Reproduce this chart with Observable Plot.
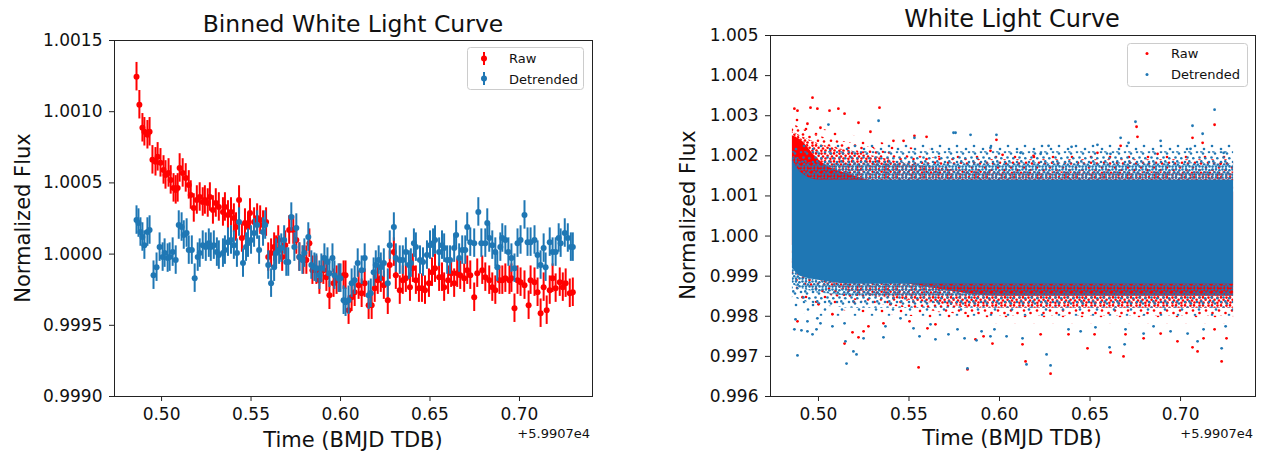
<!DOCTYPE html>
<html>
<head>
<meta charset="utf-8">
<script src="https://cdn.jsdelivr.net/npm/d3@7"></script>
<script src="https://cdn.jsdelivr.net/npm/@observablehq/plot@0.6"></script>
<style>
  html, body { margin: 0; padding: 0; background: #fff; }
  #wrap { position: relative; width: 1262px; height: 453px; overflow: hidden; font-family: "DejaVu Sans", sans-serif; }
  #left, #right { position: absolute; top: 0; }
  #left { left: 0; }
  #right { left: 631px; }
  #overlay { position: absolute; left: 0; top: 0; pointer-events: none; }
  #defs { position: absolute; left: 0; top: 0; width: 0; height: 0; }
</style>
</head>
<body>
<svg id="defs" width="0" height="0">
  <defs>
    <pattern id="blueDense" width="10" height="8" patternUnits="userSpaceOnUse">
      <g fill="#1f77b4">
        <circle cx="1.5" cy="1.5" r="1.3"/><circle cx="5" cy="1.4" r="1.3"/><circle cx="8.4" cy="2.2" r="1.3"/>
        <circle cx="3.2" cy="4.2" r="1.3"/><circle cx="6.8" cy="4.6" r="1.3"/><circle cx="1.6" cy="6.6" r="1.3"/>
        <circle cx="5" cy="6.6" r="1.3"/><circle cx="8.5" cy="6.4" r="1.3"/>
      </g>
    </pattern>
    <pattern id="blueSparse" width="12" height="10" patternUnits="userSpaceOnUse">
      <g fill="#1f77b4">
        <circle cx="2" cy="2" r="1.3"/><circle cx="8" cy="3.5" r="1.3"/><circle cx="4.5" cy="7.5" r="1.3"/><circle cx="10.3" cy="8.3" r="1.3"/>
        <circle cx="6.3" cy="1.4" r="1.3"/>
      </g>
    </pattern>
    <pattern id="blueFar" width="17" height="13" patternUnits="userSpaceOnUse">
      <g fill="#1f77b4">
        <circle cx="3" cy="3" r="1.3"/><circle cx="12" cy="6" r="1.3"/><circle cx="7" cy="10.5" r="1.3"/>
      </g>
    </pattern>
    <pattern id="redDense" width="9" height="8" patternUnits="userSpaceOnUse">
      <g fill="#ff0000">
        <circle cx="1.5" cy="1.6" r="1.3"/><circle cx="5" cy="1.4" r="1.3"/><circle cx="7.6" cy="3.8" r="1.3"/>
        <circle cx="3" cy="4.5" r="1.3"/><circle cx="1.4" cy="6.7" r="1.3"/><circle cx="5.5" cy="6.5" r="1.3"/>
      </g>
    </pattern>
    <pattern id="redSparse" width="13" height="11" patternUnits="userSpaceOnUse">
      <g fill="#ff0000">
        <circle cx="3" cy="2.5" r="1.3"/><circle cx="9.5" cy="5" r="1.3"/><circle cx="5" cy="8.8" r="1.3"/><circle cx="11" cy="9.5" r="1.3"/>
      </g>
    </pattern>
    <pattern id="redFar" width="19" height="14" patternUnits="userSpaceOnUse">
      <g fill="#ff0000">
        <circle cx="4" cy="3" r="1.3"/><circle cx="14" cy="8" r="1.3"/>
      </g>
    </pattern>
  </defs>
</svg>
<div id="wrap">
  <div id="left"></div>
  <div id="right"></div>
</div>
<script>
// ---------------- shared ticks ----------------
const xTicks = [0.50, 0.55, 0.60, 0.65, 0.70];
const yTicksBinned = [0.9990, 0.9995, 1.0000, 1.0005, 1.0010, 1.0015];
const yTicksFull = [0.996, 0.997, 0.998, 0.999, 1.000, 1.001, 1.002, 1.003, 1.004, 1.005];
const binErr = 0.0001;

// ---------------- Left panel: binned white light curve ----------------
const rawTime = [0.4860,0.4876,0.4893,0.4904,0.4921,0.4933,0.4949,0.4966,0.4978,0.4994,
0.5011,0.5022,0.5039,0.5051,0.5067,0.5079,0.5090,0.5101,0.5118,0.5135,
0.5152,0.5163,0.5180,0.5197,0.5213,0.5230,0.5242,0.5258,0.5270,0.5287,
0.5303,0.5320,0.5343,0.5354,0.5371,0.5388,0.5404,0.5416,0.5433,0.5449,
0.5466,0.5483,0.5494,0.5517,0.5534,0.5551,0.5567,0.5584,0.5596,0.5612,
0.5629,0.5640,0.5652,0.5674,0.5691,0.5713,0.5736,0.5753,0.5770,0.5792,
0.5809,0.5826,0.5843,0.5865,0.5882,0.5904,0.5921,0.5938,0.5961,0.5978,
0.5994,0.6017,0.6028,0.6045,0.6062,0.6079,0.6101,0.6118,0.6135,0.6157,
0.6174,0.6191,0.6208,0.6225,0.6242,0.6264,0.6275,0.6298,0.6309,0.6331,
0.6348,0.6365,0.6388,0.6404,0.6421,0.6438,0.6455,0.6472,0.6494,0.6511,
0.6528,0.6551,0.6567,0.6579,0.6601,0.6618,0.6635,0.6652,0.6669,0.6691,
0.6708,0.6725,0.6747,0.6764,0.6792,0.6809,0.6831,0.6848,0.6865,0.6888,
0.6904,0.6921,0.6944,0.6955,0.6972,0.6989,0.7006,0.7028,0.7051,0.7062,
0.7084,0.7101,0.7118,0.7135,0.7152,0.7169,0.7185,0.7202,0.7225,0.7242,
0.7258,0.7281,0.7298];
const rawFlux = [1.001246,1.001049,1.000887,1.000859,1.000838,1.000859,1.000662,1.000648,1.000683,1.000641,
1.000591,1.000556,1.000570,1.000521,1.000465,1.000451,1.000465,1.000605,1.000570,1.000535,
1.000486,1.000415,1.000324,1.000380,1.000401,1.000366,1.000380,1.000359,1.000401,1.000310,
1.000359,1.000331,1.000296,1.000331,1.000275,1.000296,1.000253,1.000190,1.000380,1.000113,
1.000218,1.000190,1.000289,1.000225,1.000253,1.000239,1.000204,1.000225,0.999979,1.000007,
1.000049,1.000028,1.000099,0.999979,1.000063,1.000169,1.000169,1.000099,0.999979,0.999958,
0.999958,1.000077,0.999887,0.999887,0.999817,0.999887,0.999838,0.999711,0.999796,0.999817,
0.999831,0.999852,0.999852,0.999606,0.999697,0.999732,0.999782,0.999725,0.999796,0.999641,
0.999641,0.999761,0.999817,0.999831,0.999782,0.999676,0.999923,1.000014,0.999852,0.999747,
0.999817,0.999831,0.999768,0.999901,0.999817,0.999761,0.999761,0.999747,0.999796,0.999873,
0.999901,0.999838,0.999838,0.999768,0.999817,0.999866,0.999796,0.999866,0.999852,0.999831,
0.999887,0.999852,0.999697,0.999866,0.999887,0.999838,0.999817,0.999768,0.999747,0.999817,
0.999817,0.999831,0.999817,0.999831,0.999620,0.999817,0.999803,0.999782,0.999641,0.999817,
0.999803,0.999732,0.999585,0.999768,0.999606,0.999747,0.999831,0.999761,0.999803,0.999768,
0.999796,0.999725,0.999732];

const detTime = [0.4860,0.4871,0.4882,0.4893,0.4904,0.4921,0.4933,0.4955,0.4972,0.4989,
0.5006,0.5017,0.5034,0.5045,0.5062,0.5079,0.5096,0.5112,0.5124,0.5140,
0.5152,0.5169,0.5185,0.5202,0.5213,0.5230,0.5247,0.5264,0.5275,0.5292,
0.5309,0.5320,0.5343,0.5354,0.5371,0.5388,0.5404,0.5421,0.5433,0.5455,
0.5472,0.5483,0.5500,0.5517,0.5534,0.5545,0.5567,0.5579,0.5596,0.5612,
0.5629,0.5640,0.5657,0.5669,0.5685,0.5697,0.5708,0.5725,0.5742,0.5753,
0.5770,0.5787,0.5798,0.5820,0.5837,0.5854,0.5865,0.5882,0.5893,0.5910,
0.5927,0.5938,0.5955,0.5966,0.5989,0.6000,0.6017,0.6028,0.6045,0.6062,
0.6079,0.6096,0.6118,0.6135,0.6157,0.6169,0.6185,0.6197,0.6213,0.6225,
0.6242,0.6264,0.6275,0.6298,0.6309,0.6331,0.6348,0.6365,0.6382,0.6393,
0.6410,0.6421,0.6444,0.6461,0.6483,0.6500,0.6517,0.6528,0.6551,0.6567,
0.6579,0.6596,0.6612,0.6635,0.6646,0.6663,0.6680,0.6697,0.6708,0.6725,
0.6747,0.6770,0.6787,0.6809,0.6820,0.6831,0.6848,0.6865,0.6876,0.6893,
0.6904,0.6921,0.6938,0.6955,0.6972,0.6989,0.7006,0.7028,0.7045,0.7062,
0.7084,0.7101,0.7118,0.7135,0.7146,0.7169,0.7185,0.7202,0.7219,0.7230,
0.7253,0.7270,0.7287,0.7298];
const detFlux = [1.000239,1.000218,1.000155,1.000120,1.000063,1.000155,1.000169,0.999852,0.999908,1.000049,
0.999979,1.000007,0.999972,0.999979,1.000014,0.999958,1.000204,1.000190,1.000134,1.000148,
1.000028,1.000028,0.999831,0.999979,1.000007,1.000063,1.000049,1.000077,1.000049,1.000063,
1.000014,0.999993,1.000007,1.000028,1.000084,1.000099,1.000063,1.000007,1.000225,0.999937,
1.000049,1.000077,1.000099,1.000148,1.000204,1.000028,1.000155,1.000204,0.999923,0.999796,
0.999908,1.000007,1.000028,1.000042,1.000099,0.999944,0.999944,1.000260,1.000049,1.000183,
0.999979,0.999958,1.000007,1.000120,0.999923,0.999908,0.999901,0.999852,0.999901,0.999972,
0.999944,0.999866,0.999972,0.999852,0.999831,0.999831,0.999676,0.999662,0.999676,0.999796,
0.999817,0.999937,0.999887,0.999972,0.999711,0.999725,0.999873,0.999923,0.999958,0.999908,
0.999937,0.999796,1.000063,1.000190,0.999972,0.999958,0.999958,1.000014,0.999923,0.999937,
1.000077,1.000049,0.999958,0.999944,0.999993,1.000063,1.000077,1.000099,1.000014,1.000063,
1.000042,0.999958,0.999958,1.000042,1.000134,0.999972,1.000028,1.000028,1.000190,1.000084,
1.000077,1.000296,1.000077,1.000077,1.000218,1.000113,1.000063,1.000014,0.999908,1.000049,
1.000113,1.000099,1.000014,0.999972,0.999901,1.000077,1.000099,1.000275,1.000084,1.000084,
1.000099,0.999993,0.999923,1.000042,0.999908,1.000084,1.000014,1.000014,1.000113,1.000077,
1.000148,1.000113,1.000049,1.000049];

// ---------------- Right panel: unbinned white light curve ----------------
// envelopes of the dense point cloud (solid core, dense, sparse and far fringes), read at a few times
const bandTime   = [0.4856, 0.4900, 0.5000, 0.5200, 0.5500, 0.6000, 0.6500, 0.7000, 0.7293];
const detCoreLo  = [0.9992, 0.9990, 0.9989, 0.9988, 0.9988, 0.9988, 0.9988, 0.9988, 0.9988];
const detCoreHi  = [1.0019, 1.0016, 1.0014, 1.0014, 1.0014, 1.0014, 1.0014, 1.0014, 1.0014];
const detInnerLo = [0.9988, 0.9987, 0.9986, 0.9985, 0.9985, 0.9985, 0.9985, 0.9985, 0.9985];
const detInnerHi = [1.0020, 1.0019, 1.0018, 1.0018, 1.0018, 1.0018, 1.0018, 1.0018, 1.0018];
const detOuterLo = [0.9985, 0.9984, 0.9983, 0.9982, 0.9982, 0.9982, 0.9982, 0.9982, 0.9982];
const detOuterHi = [1.0021, 1.0021, 1.0021, 1.0021, 1.0021, 1.0021, 1.0021, 1.0021, 1.0021];
const detFarLo   = [0.9982, 0.9981, 0.9980, 0.9980, 0.9980, 0.9980, 0.9980, 0.9980, 0.9980];
const detFarHi   = [1.0023, 1.0023, 1.0023, 1.0023, 1.0023, 1.0023, 1.0023, 1.0023, 1.0023];
const rawCoreLo  = [0.9998, 0.9996, 0.9993, 0.9990, 0.9988, 0.9985, 0.9985, 0.9985, 0.9985];
const rawCoreHi  = [1.0025, 1.0024, 1.0019, 1.0015, 1.0012, 1.0011, 1.0011, 1.0011, 1.0011];
const rawInnerLo = [0.9994, 0.9992, 0.9989, 0.9986, 0.9984, 0.9982, 0.9982, 0.9982, 0.9982];
const rawInnerHi = [1.0026, 1.0025, 1.0023, 1.0021, 1.0018, 1.0016, 1.0016, 1.0016, 1.0016];
const rawOuterLo = [0.9990, 0.9988, 0.9986, 0.9984, 0.9982, 0.9980, 0.9980, 0.9980, 0.9980];
const rawOuterHi = [1.0028, 1.0027, 1.0025, 1.0023, 1.0020, 1.0019, 1.0019, 1.0019, 1.0019];
const rawFarLo   = [0.9986, 0.9985, 0.9983, 0.9981, 0.9980, 0.9978, 0.9978, 0.9978, 0.9978];
const rawFarHi   = [1.0030, 1.0029, 1.0027, 1.0025, 1.0022, 1.0021, 1.0021, 1.0021, 1.0021];

// isolated points outside the cloud
const rawOutTime = [0.4867,0.4884,0.4967,0.4956,0.4994,0.5061,0.5110,0.5144,0.5337,0.5221,0.5287,0.5011,0.4939,0.5414,0.5530,0.5597,0.5470,
0.5983,0.6017,0.6757,0.6762,0.6669,0.7066,0.7122,0.7188,0.6541,0.5950,0.6188,0.6873,0.7221,
0.4884,0.4912,0.5144,0.5188,0.5221,0.5249,0.5276,0.5359,0.5503,0.5553,0.5602,0.5646,0.5077,0.5000,0.5398,
0.5823,0.5867,0.5912,0.5961,0.6127,0.6144,0.6227,0.6282,0.6381,0.6486,0.6525,0.6613,0.6685,0.6696,0.6796,0.6890,0.6983,0.7066,0.7094,0.7127,0.7227,0.7254,0.7188];
const rawOutFlux = [1.003175,1.003125,1.00345,1.0032,1.003175,1.003125,1.003175,1.00305,1.0032,1.002825,1.0026,1.0027,1.0028,1.002375,1.0025,1.002475,1.002375,
1.0024,1.002025,1.002725,1.002475,1.00225,1.00245,1.002325,1.002775,1.002075,1.002125,1.002,1.00205,1.0018,
0.997875,0.998475,0.99732,0.9976,0.997475,0.997625,0.99775,0.997825,0.997875,0.996725,0.9977,0.9978,0.99805,0.9983,0.9983,
0.996675,0.997425,0.9975,0.99732,0.9973,0.996875,0.99755,0.99657,0.99755,0.9972,0.99755,0.9971,0.997,0.99755,0.99745,0.99757,0.997375,0.997225,0.997125,0.99745,0.996875,0.99745,0.997675];

const detOutTime = [0.5055,0.5332,0.5746,0.5530,0.5757,0.5840,0.5983,0.5950,0.6271,0.6398,0.6541,0.6669,0.6751,0.6713,0.6890,0.7066,0.7122,0.7188,0.7238,0.7055,0.6613,0.6227,0.6116,
0.4884,0.4867,0.4906,0.4939,0.4967,0.4989,0.4873,0.4939,0.4994,0.5011,0.5149,0.5155,0.5193,0.5210,0.5249,0.5359,0.5370,0.5525,0.5558,0.5646,0.5619,0.5144,0.5077,0.5453,
0.5718,0.5768,0.5807,0.5823,0.5873,0.5901,0.5950,0.5972,0.6039,0.6127,0.6149,0.6260,0.6282,0.6381,0.6448,0.6530,0.6608,0.6691,0.6696,0.6796,0.6851,0.6945,0.7039,0.7094,0.7127,0.7227,0.7249];
const detOutFlux = [1.00278,1.002875,1.002575,1.00245,1.002575,1.002525,1.002525,1.0022,1.00225,1.002225,1.002275,1.00245,1.00285,1.002325,1.002375,1.00275,1.00255,1.00315,1.002075,1.002175,1.00205,1.00205,1.002075,
0.997025,0.997675,0.99765,0.997625,0.99755,0.997675,0.997925,0.997875,0.99795,0.997825,0.997375,0.99682,0.997125,0.99705,0.99745,0.997475,0.99775,0.9977,0.9975,0.997425,0.9978,0.997825,0.99775,0.99795,
0.99755,0.997675,0.99745,0.9967,0.9974,0.997625,0.9975,0.997675,0.9975,0.99745,0.9968,0.99705,0.996775,0.997675,0.997625,0.997725,0.997225,0.9973,0.997675,0.99757,0.99775,0.997625,0.99757,0.997375,0.997675,0.9972,0.99775];

// ---------------- build tables ----------------
const RED = "#ff0000", BLUE = "#1f77b4", INK = "#111111";
const rawBinned = rawTime.map((t, i) => ({t, v: rawFlux[i]}));
const detBinned = detTime.map((t, i) => ({t, v: detFlux[i]}));
const bands = bandTime.map((t, i) => ({
  t,
  dCL: detCoreLo[i], dCH: detCoreHi[i], dIL: detInnerLo[i], dIH: detInnerHi[i],
  dOL: detOuterLo[i], dOH: detOuterHi[i], dFL: detFarLo[i], dFH: detFarHi[i],
  rCL: rawCoreLo[i], rCH: rawCoreHi[i], rIL: rawInnerLo[i], rIH: rawInnerHi[i],
  rOL: rawOuterLo[i], rOH: rawOuterHi[i], rFL: rawFarLo[i], rFH: rawFarHi[i]
}));
const rawOut = rawOutTime.map((t, i) => ({t, v: rawOutFlux[i]}));
const detOut = detOutTime.map((t, i) => ({t, v: detOutFlux[i]}));

const baseStyle = {fontFamily: "DejaVu Sans, sans-serif", fontSize: "17px", color: INK, background: "transparent", overflow: "visible"};

const leftPlot = Plot.plot({
  width: 631, height: 453,
  marginLeft: 114, marginRight: 39, marginTop: 40, marginBottom: 57,
  style: baseStyle,
  x: {domain: [0.4737, 0.7408]},
  y: {domain: [0.9990, 1.0015]},
  marks: [
    Plot.ruleX(rawBinned, {x: "t", y1: d => d.v - binErr, y2: d => d.v + binErr, stroke: RED, strokeWidth: 2}),
    Plot.dot(rawBinned, {x: "t", y: "v", r: 3, fill: RED}),
    Plot.ruleX(detBinned, {x: "t", y1: d => d.v - binErr, y2: d => d.v + binErr, stroke: BLUE, strokeWidth: 2}),
    Plot.dot(detBinned, {x: "t", y: "v", r: 3, fill: BLUE}),
    Plot.frame({stroke: "#222"}),
    Plot.axisX({ticks: xTicks, tickFormat: ".2f", tickSize: 5, tickPadding: 6, label: null, fontSize: 17, stroke: "#222"}),
    Plot.axisY({ticks: yTicksBinned, tickFormat: ".4f", tickSize: 5, tickPadding: 7, label: null, fontSize: 17, stroke: "#222"})
  ]
});
document.getElementById("left").appendChild(leftPlot);

// band helper: a band between two envelope columns, filled with a speckle pattern or solid colour
const band = (lo, hi, fill) => Plot.areaY(bands, {x: "t", y1: lo, y2: hi, fill, curve: "monotone-x"});

const rightPlot = Plot.plot({
  width: 631, height: 453,
  marginLeft: 139, marginRight: 7, marginTop: 35, marginBottom: 57,
  style: baseStyle,
  x: {domain: [0.4735, 0.7414]},
  y: {domain: [0.996, 1.005]},
  marks: [
    // raw (drawn first, under the detrended cloud)
    band("rFL", "rOL", "url(#redFar)"),
    band("rOH", "rFH", "url(#redFar)"),
    band("rOL", "rIL", "url(#redSparse)"),
    band("rIH", "rOH", "url(#redSparse)"),
    band("rIL", "rCL", "url(#redDense)"),
    band("rCH", "rIH", "url(#redDense)"),
    band("rCL", "rCH", RED),
    Plot.dot(rawOut, {x: "t", y: "v", r: 1.4, fill: RED}),
    // detrended
    band("dFL", "dOL", "url(#blueFar)"),
    band("dOH", "dFH", "url(#blueFar)"),
    band("dOL", "dIL", "url(#blueSparse)"),
    band("dIH", "dOH", "url(#blueSparse)"),
    band("dIL", "dCL", "url(#blueDense)"),
    band("dCH", "dIH", "url(#blueDense)"),
    band("dCL", "dCH", BLUE),
    Plot.dot(detOut, {x: "t", y: "v", r: 1.4, fill: BLUE}),
    Plot.frame({stroke: "#222"}),
    Plot.axisX({ticks: xTicks, tickFormat: ".2f", tickSize: 5, tickPadding: 6, label: null, fontSize: 17, stroke: "#222"}),
    Plot.axisY({ticks: yTicksFull, tickFormat: ".3f", tickSize: 5, tickPadding: 7, label: null, fontSize: 17, stroke: "#222"})
  ]
});
document.getElementById("right").appendChild(rightPlot);

// ---------------- titles, axis labels, offsets, legends ----------------
const ns = "http://www.w3.org/2000/svg";
const ov = document.createElementNS(ns, "svg");
ov.setAttribute("id", "overlay");
ov.setAttribute("width", 1262);
ov.setAttribute("height", 453);
ov.setAttribute("font-family", "DejaVu Sans, sans-serif");
ov.setAttribute("fill", INK);
document.getElementById("wrap").appendChild(ov);

function txt(s, x, y, size, anchor, rot) {
  const t = document.createElementNS(ns, "text");
  t.textContent = s;
  t.setAttribute("font-size", size);
  t.setAttribute("text-anchor", anchor || "start");
  if (rot) t.setAttribute("transform", `translate(${x},${y}) rotate(${rot})`);
  else { t.setAttribute("x", x); t.setAttribute("y", y); }
  ov.appendChild(t);
  return t;
}
function el(tag, attrs) {
  const e = document.createElementNS(ns, tag);
  for (const k in attrs) e.setAttribute(k, attrs[k]);
  ov.appendChild(e);
  return e;
}

txt("Binned White Light Curve", 353, 32, 23.5, "middle");
txt("White Light Curve", 1012, 27, 24, "middle");
txt("Normalized Flux", 30, 218, 21, "middle", -90);
txt("Normalized Flux", 695, 215, 21, "middle", -90);
txt("Time (BMJD TDB)", 353, 447, 21, "middle");
txt("Time (BMJD TDB)", 1012, 445, 21, "middle");
txt("+5.9907e4", 590, 438, 13, "end");
txt("+5.9907e4", 1253, 438, 13, "end");

// left legend
el("rect", {x: 467.5, y: 47.5, width: 116, height: 42, rx: 3, fill: "#fff", "fill-opacity": 0.8, stroke: "#cccccc", "stroke-width": 1});
el("line", {x1: 484, x2: 484, y1: 52, y2: 65, stroke: RED, "stroke-width": 2});
el("circle", {cx: 484, cy: 58.5, r: 3, fill: RED});
el("line", {x1: 484, x2: 484, y1: 72, y2: 85, stroke: BLUE, "stroke-width": 2});
el("circle", {cx: 484, cy: 78.5, r: 3, fill: BLUE});
txt("Raw", 509, 63, 13, "start");
txt("Detrended", 509, 83.5, 13, "start");

// right legend
el("rect", {x: 1127.5, y: 43.5, width: 120, height: 43, rx: 3, fill: "#fff", "fill-opacity": 0.8, stroke: "#cccccc", "stroke-width": 1});
el("circle", {cx: 1147, cy: 53.5, r: 1.5, fill: RED});
el("circle", {cx: 1147, cy: 74.5, r: 1.5, fill: BLUE});
txt("Raw", 1171, 58, 13, "start");
txt("Detrended", 1171, 79, 13, "start");
</script>
</body>
</html>
